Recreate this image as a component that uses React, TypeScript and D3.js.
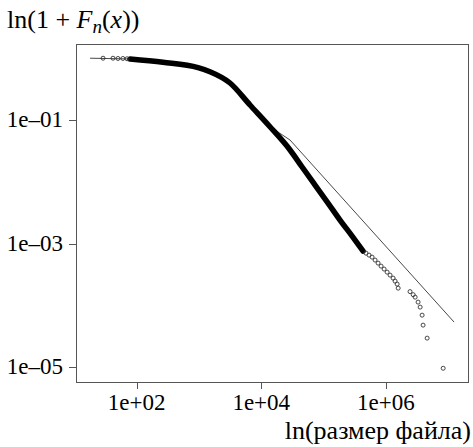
import React from "react";
import * as d3 from "d3";

// Dense part of the empirical curve (drawn as a thick band)
const bandX = [78, 264, 966, 1500, 3150, 6600, 13800, 29000, 45300, 73100, 118000, 184000, 288000, 432000];
const bandY = [0.973, 0.859, 0.703, 0.605, 0.397, 0.175, 0.0779, 0.0327, 0.01734, 0.00885, 0.00453, 0.0024, 0.00132, 7.56e-4];

// Individual open points (head and tail)
const pointX = [28.8, 41.6, 50, 60, 70,
  481000, 538000, 602000, 673000, 752000, 840000, 939000, 1.05e6, 1.17e6, 1.31e6, 1.41e6, 1.52e6, 1.58e6,
  2.45e6, 2.75e6, 2.96e6, 3.3e6, 3.56e6, 3.83e6, 3.97e6, 4.61e6, 8.34e6];
const pointY = [1.0, 1.0, 0.99, 0.99, 0.98,
  7.0e-4, 6.51e-4, 6.04e-4, 5.41e-4, 4.83e-4, 4.32e-4, 3.87e-4, 3.45e-4, 3.09e-4, 2.76e-4, 2.47e-4, 2.21e-4, 1.9e-4,
  1.67e-4, 1.49e-4, 1.36e-4, 1.13e-4, 9.38e-5, 6.95e-5, 4.79e-5, 2.95e-5, 9.6e-6];

// Fitted reference line
const fitX = [17.8, 78, 264, 966, 1500, 3150, 6600, 13800, 29000, 1.25e7];
const fitY = [1.0, 0.973, 0.859, 0.703, 0.605, 0.397, 0.175, 0.0779, 0.0474, 5.36e-5];

const xTicks = [1e2, 1e4, 1e6];
const xTickLabels = ["1e+02", "1e+04", "1e+06"];
const yTicks = [1e-1, 1e-3, 1e-5];
const yTickLabels = ["1e\u201301", "1e\u201303", "1e\u201305"];

const FONT = "Liberation Serif, DejaVu Serif, Times New Roman, serif";

export default function App() {
  const left = 76, right = 468, top = 44, bottom = 382;
  const x = d3.scaleLog().domain([Math.pow(10, 1.025), Math.pow(10, 7.32)]).range([left, right]);
  const y = d3.scaleLog().domain([Math.pow(10, -5.24), Math.pow(10, 0.23)]).range([bottom, top]);

  const band = d3.line<number>()
    .x((_, i) => x(bandX[i]))
    .y((_, i) => y(bandY[i]))
    .curve(d3.curveMonotoneX)(bandX);
  const fit = d3.line<number>()
    .x((_, i) => x(fitX[i]))
    .y((_, i) => y(fitY[i]))(fitX);

  return (
    <svg width={473} height={447} style={{ position: "absolute", left: 0, top: 0, background: "#fff" }}>
      <path d={fit || ""} fill="none" stroke="#333" strokeWidth={0.9} />
      <path d={band || ""} fill="none" stroke="#000" strokeWidth={5.5} strokeLinecap="round" strokeLinejoin="round" />
      {pointX.map((v, i) => (
        <circle key={i} cx={x(v)} cy={y(pointY[i])} r={2} fill="none" stroke="#333" strokeWidth={0.9} />
      ))}
      <rect x={left + 0.5} y={top + 0.5} width={right - left} height={bottom - top} fill="none" stroke="#555" strokeWidth={1} />
      <g fontFamily={FONT} fill="#000">
        {xTicks.map((t, i) => (
          <g key={i}>
            <line x1={Math.round(x(t)) + 0.5} x2={Math.round(x(t)) + 0.5} y1={bottom + 0.5} y2={bottom + 7} stroke="#555" />
            <text x={x(t)} y={410} textAnchor="middle" fontSize={23}>{xTickLabels[i]}</text>
          </g>
        ))}
        {yTicks.map((t, i) => (
          <g key={i}>
            <line x1={left - 7} x2={left + 0.5} y1={Math.round(y(t)) + 0.5} y2={Math.round(y(t)) + 0.5} stroke="#555" />
            <text x={63} y={y(t) + 7} textAnchor="end" fontSize={23}>{yTickLabels[i]}</text>
          </g>
        ))}
        <text x={471} y={439} textAnchor="end" fontSize={26}>ln(размер файла)</text>
        <text x={7} y={28} fontSize={26}>
          <tspan>ln(1 + </tspan>
          <tspan fontStyle="italic">F</tspan>
          <tspan fontStyle="italic" fontSize={19} dy={5}>n</tspan>
          <tspan dy={-5}>(</tspan>
          <tspan fontStyle="italic">x</tspan>
          <tspan>))</tspan>
        </text>
      </g>
    </svg>
  );
}
